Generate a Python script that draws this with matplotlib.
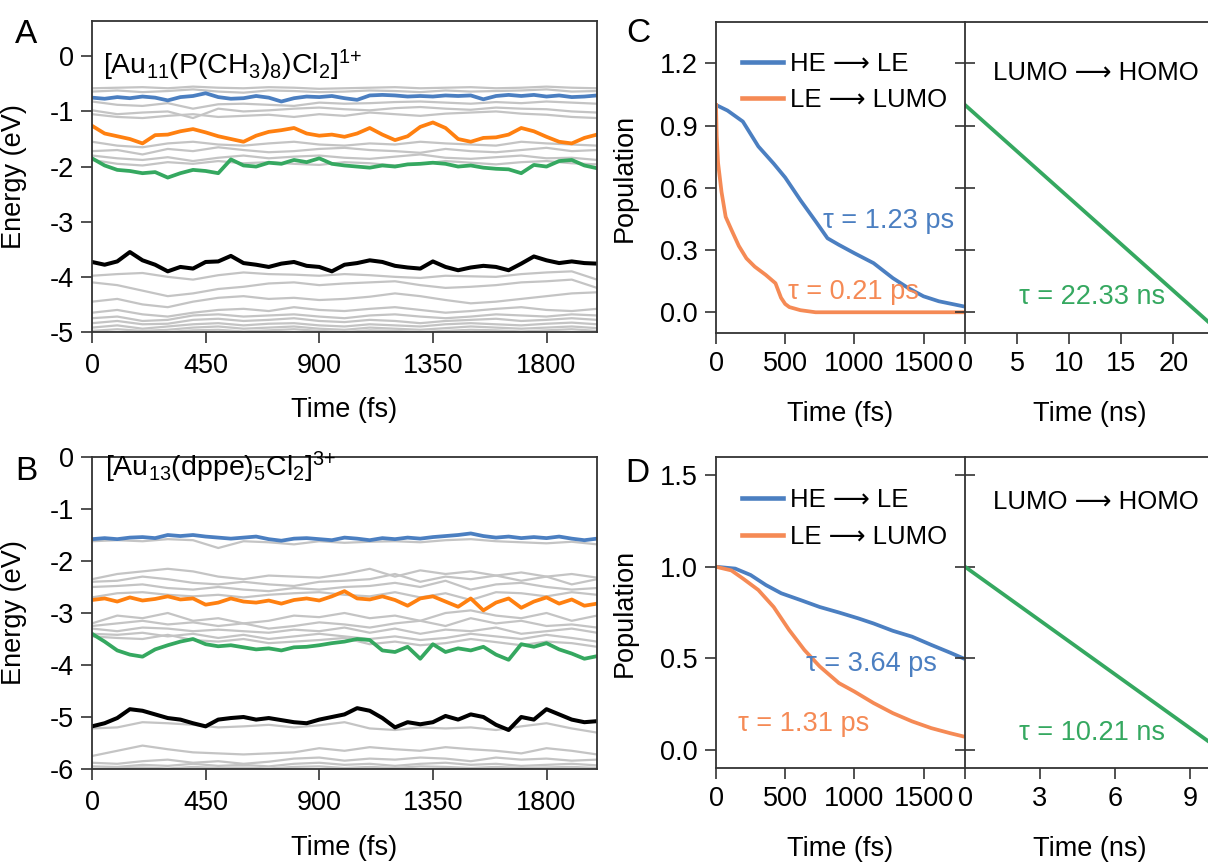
import numpy as np
import matplotlib
matplotlib.use("Agg")
import matplotlib.pyplot as plt

plt.rcParams['font.family'] = ['Liberation Sans', 'DejaVu Sans']
plt.rcParams['axes.unicode_minus'] = False
plt.rcParams['mathtext.fontset'] = 'dejavusans'

# ---------------- data ----------------
# time grids (fs) for panels A/B
t_fine = list(range(0, 2001, 50))     # colored lines
t_coarse = list(range(0, 2001, 100))  # gray lines

# Panel A: [Au11(P(CH3)8)Cl2]1+
A_blue = [-0.75, -0.77, -0.74, -0.76, -0.73, -0.75, -0.80, -0.74, -0.72, -0.67, -0.74,
          -0.77, -0.76, -0.72, -0.75, -0.82, -0.76, -0.73, -0.74, -0.72, -0.76, -0.79,
          -0.71, -0.70, -0.71, -0.73, -0.72, -0.73, -0.71, -0.72, -0.71, -0.78, -0.72,
          -0.70, -0.72, -0.70, -0.73, -0.71, -0.74, -0.73, -0.71]
A_orange = [-1.26, -1.40, -1.45, -1.50, -1.58, -1.43, -1.42, -1.36, -1.32, -1.38, -1.45,
            -1.50, -1.55, -1.44, -1.37, -1.34, -1.30, -1.40, -1.44, -1.42, -1.46, -1.40,
            -1.30, -1.42, -1.52, -1.45, -1.28, -1.20, -1.30, -1.50, -1.55, -1.48, -1.47,
            -1.42, -1.30, -1.36, -1.46, -1.55, -1.58, -1.48, -1.42]
A_green = [-1.85, -1.98, -2.06, -2.08, -2.12, -2.10, -2.20, -2.12, -2.06, -2.08, -2.12,
           -1.87, -1.98, -2.00, -1.93, -1.95, -1.88, -1.92, -1.85, -1.95, -1.98, -2.00,
           -2.02, -1.98, -2.00, -1.96, -1.95, -1.93, -1.95, -2.00, -1.98, -2.02, -2.04,
           -2.05, -2.12, -1.97, -2.00, -1.90, -1.88, -1.98, -2.03]
A_black = [-3.73, -3.78, -3.72, -3.55, -3.70, -3.78, -3.90, -3.82, -3.85, -3.73, -3.72,
           -3.62, -3.75, -3.78, -3.82, -3.76, -3.73, -3.80, -3.82, -3.90, -3.78, -3.75,
           -3.70, -3.73, -3.80, -3.83, -3.85, -3.72, -3.82, -3.88, -3.83, -3.80, -3.82,
           -3.88, -3.76, -3.63, -3.70, -3.75, -3.72, -3.75, -3.76]
A_gray = [
    [-0.58, -0.57, -0.56, -0.58, -0.55, -0.57, -0.58, -0.56, -0.57, -0.59, -0.58, -0.57, -0.56, -0.58, -0.57, -0.56, -0.58, -0.57, -0.55, -0.57, -0.58],
    [-0.64, -0.62, -0.65, -0.63, -0.60, -0.64, -0.66, -0.62, -0.63, -0.65, -0.64, -0.62, -0.63, -0.65, -0.62, -0.64, -0.63, -0.62, -0.60, -0.64, -0.63],
    [-0.82, -0.88, -0.90, -0.85, -0.95, -0.87, -0.86, -0.88, -0.90, -0.84, -0.86, -0.85, -0.83, -0.82, -0.84, -0.86, -0.83, -0.85, -0.82, -0.84, -0.86],
    [-0.98, -1.05, -1.02, -1.00, -1.12, -0.95, -1.00, -0.98, -0.95, -0.93, -0.96, -0.98, -0.94, -0.92, -0.95, -0.97, -0.93, -0.95, -0.96, -1.00, -1.02],
    [-1.05, -1.10, -1.12, -1.08, -1.05, -1.10, -1.08, -1.06, -1.10, -1.05, -1.08, -1.02, -1.05, -1.08, -1.04, -1.02, -1.00, -1.04, -1.06, -1.10, -1.12],
    [-1.55, -1.62, -1.65, -1.58, -1.55, -1.60, -1.62, -1.58, -1.55, -1.60, -1.62, -1.58, -1.60, -1.55, -1.58, -1.60, -1.62, -1.55, -1.58, -1.60, -1.62],
    [-1.72, -1.70, -1.78, -1.68, -1.72, -1.65, -1.70, -1.74, -1.72, -1.68, -1.66, -1.70, -1.72, -1.75, -1.68, -1.72, -1.74, -1.70, -1.66, -1.72, -1.70],
    [-1.80, -1.85, -1.88, -1.83, -1.90, -1.84, -1.80, -1.85, -1.82, -1.80, -1.84, -1.86, -1.82, -1.78, -1.84, -1.86, -1.83, -1.80, -1.85, -1.84, -1.88],
    [-1.88, -1.95, -1.98, -1.92, -1.95, -1.90, -1.94, -1.92, -1.95, -1.97, -1.92, -1.94, -1.98, -1.95, -1.90, -1.93, -1.96, -1.92, -1.90, -1.94, -1.96],
    [-3.98, -3.95, -3.93, -4.00, -4.05, -3.97, -3.92, -3.95, -3.96, -3.98, -3.95, -3.97, -4.00, -4.02, -3.98, -3.99, -4.00, -3.95, -3.92, -3.90, -4.05],
    [-4.10, -4.15, -4.25, -4.35, -4.30, -4.22, -4.18, -4.12, -4.10, -4.15, -4.12, -4.10, -4.08, -4.15, -4.20, -4.18, -4.15, -4.10, -4.08, -4.05, -4.20],
    [-4.45, -4.40, -4.50, -4.55, -4.45, -4.38, -4.35, -4.40, -4.38, -4.42, -4.40, -4.36, -4.30, -4.35, -4.42, -4.48, -4.45, -4.40, -4.35, -4.30, -4.28],
    [-4.65, -4.60, -4.68, -4.72, -4.65, -4.60, -4.58, -4.62, -4.55, -4.60, -4.62, -4.58, -4.55, -4.60, -4.65, -4.62, -4.58, -4.55, -4.60, -4.62, -4.58],
    [-4.75, -4.72, -4.80, -4.78, -4.70, -4.68, -4.72, -4.70, -4.68, -4.72, -4.75, -4.70, -4.68, -4.72, -4.75, -4.72, -4.68, -4.70, -4.72, -4.68, -4.70],
    [-4.84, -4.80, -4.86, -4.85, -4.78, -4.76, -4.80, -4.78, -4.75, -4.80, -4.82, -4.78, -4.80, -4.84, -4.80, -4.78, -4.76, -4.80, -4.78, -4.75, -4.78],
    [-4.92, -4.88, -4.94, -4.90, -4.86, -4.84, -4.88, -4.85, -4.84, -4.88, -4.90, -4.86, -4.88, -4.90, -4.86, -4.84, -4.86, -4.88, -4.85, -4.83, -4.86],
    [-4.98, -4.95, -4.98, -4.96, -4.92, -4.90, -4.94, -4.92, -4.90, -4.94, -4.96, -4.92, -4.94, -4.96, -4.93, -4.90, -4.92, -4.94, -4.92, -4.90, -4.93],
    [-5.02, -5.00, -5.02, -5.00, -4.97, -4.96, -4.99, -4.97, -4.95, -4.98, -5.00, -4.97, -4.98, -5.00, -4.98, -4.96, -4.97, -4.99, -4.97, -4.95, -4.98],
]

# Panel B: [Au13(dppe)5Cl2]3+
B_blue = [-1.58, -1.56, -1.58, -1.55, -1.54, -1.56, -1.50, -1.52, -1.50, -1.53, -1.55,
          -1.57, -1.55, -1.53, -1.58, -1.61, -1.57, -1.56, -1.58, -1.60, -1.55, -1.57,
          -1.60, -1.56, -1.58, -1.55, -1.57, -1.54, -1.52, -1.50, -1.47, -1.52, -1.55,
          -1.53, -1.56, -1.54, -1.56, -1.53, -1.57, -1.60, -1.57]
B_orange = [-2.75, -2.72, -2.78, -2.70, -2.76, -2.73, -2.68, -2.74, -2.72, -2.84, -2.80,
            -2.72, -2.78, -2.80, -2.76, -2.82, -2.75, -2.72, -2.76, -2.68, -2.58, -2.72,
            -2.74, -2.68, -2.75, -2.86, -2.72, -2.68, -2.78, -2.88, -2.72, -2.95, -2.80,
            -2.72, -2.90, -2.78, -2.70, -2.82, -2.74, -2.86, -2.82]
B_green = [-3.40, -3.55, -3.72, -3.80, -3.84, -3.70, -3.62, -3.55, -3.50, -3.60, -3.64,
           -3.62, -3.66, -3.70, -3.68, -3.72, -3.66, -3.65, -3.62, -3.58, -3.55, -3.50,
           -3.52, -3.72, -3.75, -3.65, -3.88, -3.60, -3.75, -3.68, -3.72, -3.65, -3.80,
           -3.90, -3.60, -3.65, -3.58, -3.70, -3.78, -3.88, -3.83]
B_black = [-5.18, -5.12, -5.02, -4.85, -4.88, -4.95, -5.02, -5.05, -5.12, -5.18, -5.05,
           -5.02, -5.00, -5.05, -5.02, -5.06, -5.10, -5.12, -5.05, -5.00, -4.95, -4.83,
           -4.88, -5.02, -5.20, -5.10, -5.14, -5.10, -4.98, -5.05, -4.95, -5.00, -5.15,
           -5.25, -5.00, -5.05, -4.85, -4.95, -5.05, -5.10, -5.08]
B_gray = [
    [-1.62, -1.60, -1.62, -1.58, -1.60, -1.75, -1.62, -1.64, -1.68, -1.62, -1.65, -1.63, -1.62, -1.64, -1.60, -1.58, -1.62, -1.64, -1.66, -1.63, -1.68],
    [-2.35, -2.25, -2.20, -2.15, -2.20, -2.30, -2.35, -2.28, -2.30, -2.32, -2.25, -2.15, -2.30, -2.18, -2.25, -2.20, -2.28, -2.22, -2.30, -2.25, -2.32],
    [-2.40, -2.38, -2.30, -2.35, -2.42, -2.45, -2.40, -2.45, -2.48, -2.40, -2.38, -2.35, -2.25, -2.40, -2.30, -2.35, -2.28, -2.38, -2.30, -2.45, -2.35],
    [-2.50, -2.48, -2.45, -2.52, -2.55, -2.50, -2.55, -2.58, -2.52, -2.55, -2.50, -2.48, -2.42, -2.50, -2.38, -2.55, -2.45, -2.42, -2.50, -2.55, -2.52],
    [-2.70, -2.62, -2.60, -2.65, -2.68, -2.65, -2.70, -2.65, -2.62, -2.60, -2.65, -2.68, -2.60, -2.70, -2.62, -2.75, -2.60, -2.62, -2.68, -2.60, -2.65],
    [-3.20, -3.05, -3.10, -3.00, -3.15, -3.10, -3.20, -3.15, -3.05, -3.08, -3.00, -3.10, -3.05, -3.15, -3.00, -2.95, -3.05, -3.10, -3.00, -3.15, -3.05],
    [-3.25, -3.20, -3.15, -3.22, -3.18, -3.25, -3.20, -3.30, -3.25, -3.18, -3.22, -3.28, -3.20, -3.15, -3.25, -3.10, -3.20, -3.15, -3.25, -3.22, -3.28],
    [-3.30, -3.35, -3.28, -3.30, -3.35, -3.32, -3.35, -3.38, -3.32, -3.35, -3.28, -3.38, -3.30, -3.40, -3.32, -3.35, -3.28, -3.40, -3.35, -3.30, -3.38],
    [-3.40, -3.42, -3.38, -3.45, -3.40, -3.48, -3.42, -3.50, -3.45, -3.40, -3.45, -3.50, -3.45, -3.52, -3.48, -3.40, -3.45, -3.50, -3.42, -3.48, -3.55],
    [-3.45, -3.48, -3.50, -3.42, -3.52, -3.55, -3.50, -3.58, -3.55, -3.52, -3.48, -3.60, -3.55, -3.62, -3.58, -3.50, -3.56, -3.62, -3.55, -3.58, -3.65],
    [-5.22, -5.20, -5.10, -5.12, -5.15, -5.20, -5.18, -5.15, -5.20, -5.16, -5.10, -5.22, -5.25, -5.20, -5.22, -5.20, -5.25, -5.18, -5.12, -5.22, -5.30],
    [-5.75, -5.65, -5.55, -5.62, -5.68, -5.70, -5.72, -5.70, -5.68, -5.60, -5.65, -5.58, -5.62, -5.65, -5.58, -5.62, -5.65, -5.70, -5.60, -5.65, -5.72],
    [-5.88, -5.90, -5.85, -5.82, -5.88, -5.85, -5.90, -5.86, -5.80, -5.78, -5.84, -5.80, -5.82, -5.78, -5.80, -5.85, -5.78, -5.82, -5.80, -5.84, -5.82],
    [-5.95, -5.96, -5.92, -5.94, -5.90, -5.94, -5.92, -5.95, -5.90, -5.88, -5.92, -5.90, -5.94, -5.90, -5.88, -5.92, -5.90, -5.94, -5.92, -5.90, -5.93],
    [-6.00, -5.98, -5.97, -5.99, -5.96, -5.98, -5.97, -5.99, -5.96, -5.95, -5.98, -5.96, -5.98, -5.95, -5.96, -5.98, -5.96, -5.98, -5.97, -5.96, -5.98],
]

# Panel C populations
C_he_t = [0, 83, 194, 306, 417, 500, 611, 722, 806, 889, 1000, 1139, 1278, 1389, 1500, 1611, 1786]
C_he_p = [1.0, 0.973, 0.92, 0.80, 0.717, 0.65, 0.54, 0.437, 0.357, 0.325, 0.285, 0.237, 0.165, 0.117, 0.077, 0.053, 0.029]
C_le_t = [0, 5, 15, 40, 70, 110, 165, 220, 280, 360, 430, 470, 500, 530, 610, 720, 1000, 1400, 1800]
C_le_p = [1.0, 0.85, 0.72, 0.58, 0.46, 0.40, 0.32, 0.26, 0.22, 0.18, 0.14, 0.07, 0.04, 0.025, 0.01, 0.0, 0.0, 0.0, 0.0]
C_lh_t = [0, 24.0]
C_lh_p = [1.0, -0.075]

# Panel D populations
D_he_t = [0, 139, 250, 361, 472, 611, 750, 889, 1028, 1139, 1278, 1417, 1556, 1694, 1786]
D_he_p = [1.0, 0.99, 0.955, 0.90, 0.855, 0.818, 0.78, 0.75, 0.718, 0.69, 0.65, 0.618, 0.573, 0.53, 0.50]
D_le_t = [0, 111, 194, 306, 417, 528, 639, 750, 889, 1000, 1139, 1278, 1417, 1556, 1694, 1786]
D_le_p = [1.0, 0.98, 0.936, 0.873, 0.78, 0.655, 0.545, 0.455, 0.364, 0.318, 0.255, 0.20, 0.155, 0.118, 0.09, 0.073]
D_lh_t = [0, 10.0]
D_lh_p = [1.0, 0.02]

ARROW = '\u27f6'
labels_pop = ['HE ' + ARROW + ' LE', 'LE ' + ARROW + ' LUMO']
lumo_label = 'LUMO ' + ARROW + ' HOMO'
tau_C = ['\u03c4 = 1.23 ps', '\u03c4 = 0.21 ps', '\u03c4 = 22.33 ns']
tau_D = ['\u03c4 = 3.64 ps', '\u03c4 = 1.31 ps', '\u03c4 = 10.21 ns']

# ---------------- style ----------------
BLUE = '#4b7fc1'
ORANGE_A = '#ff8010'
ORANGE_C = '#f58a55'
GREEN = '#35a860'
GRAY = '#c4c4c4'
SPINE = '#333333'
FS = 19.5

W, H = 1208, 866
fig = plt.figure(figsize=(W / 100, H / 100), dpi=100)


def rect(l, t, r, b):
    return [l / W, 1 - b / H, (r - l) / W, (b - t) / H]


def style_axes(ax):
    for s in ax.spines.values():
        s.set_color(SPINE)
        s.set_linewidth(1.3)
    ax.tick_params(direction='out', length=8, width=1.2, color=SPINE,
                   labelsize=FS, pad=5)


def energy_panel(ax, gray, blue, orange, green, black, ylim, yticks):
    for g in gray:
        ax.plot(t_coarse, g, color=GRAY, lw=1.6)
    ax.plot(t_fine, blue, color=BLUE, lw=2.7)
    ax.plot(t_fine, orange, color=ORANGE_A, lw=2.7)
    ax.plot(t_fine, green, color=GREEN, lw=2.7)
    ax.plot(t_fine, black, color='black', lw=2.9)
    ax.set_xlim(0, 2000)
    ax.set_ylim(*ylim)
    ax.set_xticks([0, 450, 900, 1350, 1800])
    ax.set_yticks(yticks)
    style_axes(ax)
    ax.tick_params(axis='x', pad=7)
    ax.set_xlabel('Time (fs)', fontsize=FS)
    ax.xaxis.set_label_coords(0.5, -0.21)
    ax.xaxis.label.set_va('top')
    ax.set_ylabel('Energy (eV)', fontsize=FS)
    ax.yaxis.set_label_coords(-0.128, 0.5)


axA = fig.add_axes(rect(92, 21, 597, 332))
energy_panel(axA, A_gray, A_blue, A_orange, A_green, A_black, (-5, 0.64), [0, -1, -2, -3, -4, -5])
axA.text(0.022, 0.83, r'[Au$\mathregular{_{11}}$(P(CH$\mathregular{_3}$)$\mathregular{_8}$)Cl$\mathregular{_2}$]$\mathregular{^{1{+}}}$',
         transform=axA.transAxes, fontsize=20.5, va='baseline', ha='left')

axB = fig.add_axes(rect(92, 457, 597, 769))
energy_panel(axB, B_gray, B_blue, B_orange, B_green, B_black, (-6, 0), [0, -1, -2, -3, -4, -5, -6])
axB.text(0.026, 0.937, r'[Au$\mathregular{_{13}}$(dppe)$\mathregular{_5}$Cl$\mathregular{_2}$]$\mathregular{^{3{+}}}$',
         transform=axB.transAxes, fontsize=20.5, va='baseline', ha='left')


def pop_panel(top, bottom, he_t, he_p, le_t, le_p, lh_t, lh_p, ylim, yticks,
              ns_max, ns_ticks, taus, tau_pos, lumo_y, leg_y):
    ax1 = fig.add_axes(rect(716, top, 965, bottom))
    ax2 = fig.add_axes(rect(965, top, 1215, bottom))
    ax1.plot(he_t, he_p, color=BLUE, lw=2.7, label=labels_pop[0])
    ax1.plot(le_t, le_p, color=ORANGE_C, lw=2.7, label=labels_pop[1])
    ax1.set_xlim(0, 1800)
    ax1.set_ylim(*ylim)
    ax1.set_xticks([0, 500, 1000, 1500])
    ax1.set_yticks(yticks)
    ax1.set_yticklabels(['%.1f' % v for v in yticks])
    style_axes(ax1)
    ax1.spines['right'].set_visible(False)
    ax1.set_xlabel('Time (fs)', fontsize=FS)
    ax1.xaxis.set_label_coords(0.5, -0.22)
    ax1.xaxis.label.set_va('top')
    ax1.set_ylabel('Population', fontsize=FS)
    ax1.yaxis.set_label_coords(-0.315, 0.5)
    leg = ax1.legend(loc='upper left', bbox_to_anchor=(0.105, leg_y), frameon=False,
                     fontsize=18.5, handlelength=1.6, handletextpad=0.25,
                     labelspacing=0.5, borderpad=0, borderaxespad=0)
    for ln in leg.get_lines():
        ln.set_linewidth(3.3)

    ax2.plot(lh_t, lh_p, color=GREEN, lw=2.7)
    ax2.set_xlim(0, ns_max)
    ax2.set_ylim(*ylim)
    ax2.set_xticks(ns_ticks)
    ax2.set_yticks(yticks)
    style_axes(ax2)
    ax2.spines['right'].set_visible(False)
    ax2.tick_params(axis='y', direction='inout', length=15, labelleft=False)
    ax2.set_xlabel('Time (ns)', fontsize=FS)
    ax2.xaxis.set_label_coords(0.5, -0.22)
    ax2.xaxis.label.set_va('top')

    (x1, y1), (x2, y2), (x3, y3) = tau_pos
    ax1.text(x1, y1, taus[0], color=BLUE, fontsize=FS, va='center', ha='left')
    ax1.text(x2, y2, taus[1], color=ORANGE_C, fontsize=FS, va='center', ha='left')
    ax2.text(x3, y3, taus[2], color=GREEN, fontsize=FS, va='center', ha='left')
    ax2.text(0.11, lumo_y, lumo_label, color='black', fontsize=18.5,
             va='center', ha='left', transform=ax2.transAxes)
    return ax1, ax2


pop_panel(22, 333, C_he_t, C_he_p, C_le_t, C_le_p, C_lh_t, C_lh_p,
          (-0.1, 1.4), [0.0, 0.3, 0.6, 0.9, 1.2], 24, [0, 5, 10, 15, 20], tau_C,
          [(770, 0.44), (520, 0.10), (5.2, 0.075)], 0.835, 0.905)
pop_panel(457, 768, D_he_t, D_he_p, D_le_t, D_le_p, D_lh_t, D_lh_p,
          (-0.1, 1.6), [0.0, 0.5, 1.0, 1.5], 10, [0, 3, 6, 9], tau_D,
          [(650, 0.47), (160, 0.14), (2.15, 0.09)], 0.855, 0.90)

# panel letters
for letter, x, y in [('A', 26, 43), ('B', 26, 480), ('C', 638, 42), ('D', 637, 482)]:
    fig.text(x / W, 1 - y / H, letter, fontsize=24, ha='center', va='baseline')

fig.savefig('out.png', dpi=100)
